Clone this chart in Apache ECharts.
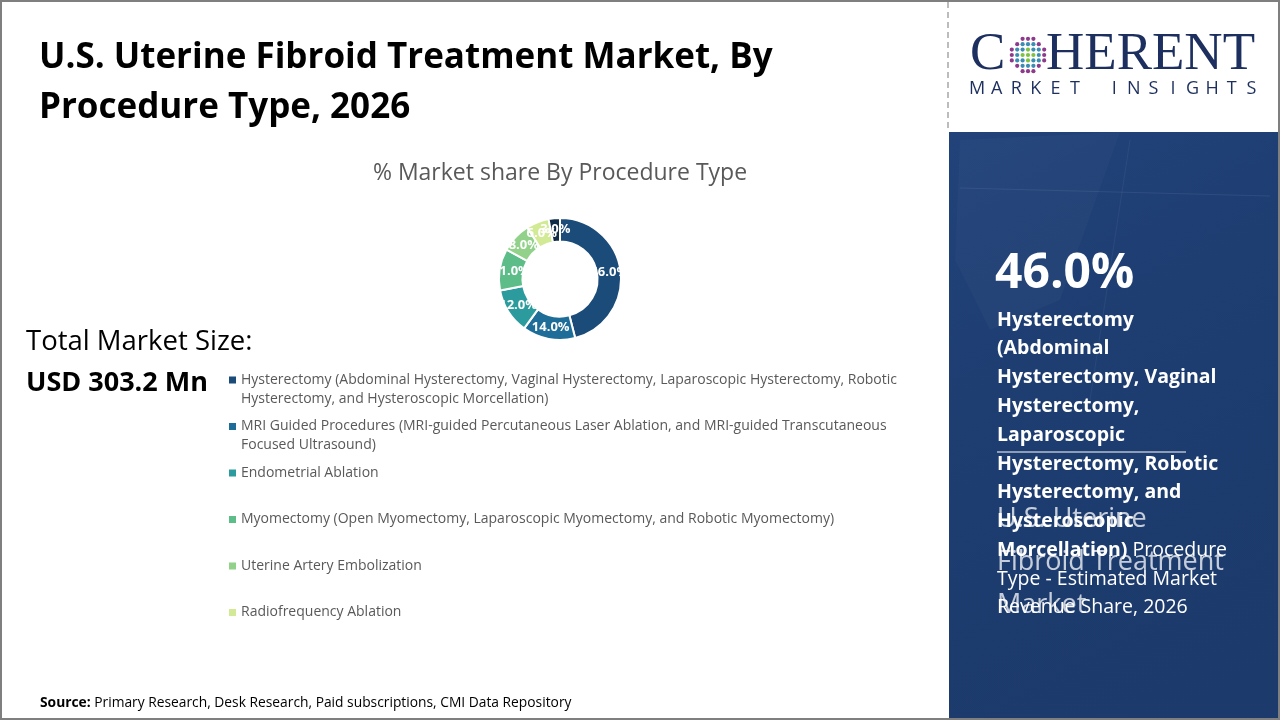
<!DOCTYPE html>
<html>
<head>
<meta charset="utf-8">
<script src="https://cdn.jsdelivr.net/npm/echarts@6/dist/echarts.min.js"></script>
<style>
html,body{margin:0;padding:0;background:#fff;}
#c{width:1280px;height:720px;}
</style>
</head>
<body>
<div id="c"></div>
<script>
// ---- data ----
const categories = [
  'Hysterectomy (Abdominal Hysterectomy, Vaginal Hysterectomy, Laparoscopic Hysterectomy, Robotic Hysterectomy, and Hysteroscopic Morcellation)',
  'MRI Guided Procedures (MRI-guided Percutaneous Laser Ablation, and MRI-guided Transcutaneous Focused Ultrasound)',
  'Endometrial Ablation',
  'Myomectomy (Open Myomectomy, Laparoscopic Myomectomy, and Robotic Myomectomy)',
  'Uterine Artery Embolization',
  'Radiofrequency Ablation',
  'Others'
];
const shares = [46.0, 14.0, 12.0, 11.0, 8.0, 6.0, 3.0];
const legendNames = categories.slice(0, 6);
const colors = ['#1b4b79', '#1d6d98', '#2b9b9d', '#5dbd89', '#91d189', '#d2ea95', '#0f2b46'];
const titleText = 'U.S. Uterine Fibroid Treatment Market, By\nProcedure Type, 2026';
const subtitleText = '% Market share By Procedure Type';
const totalLabel = 'Total Market Size:';
const totalValue = 'USD 303.2 Mn';
const sourceLabel = 'Source:';
const sourceText = ' Primary Research, Desk Research, Paid subscriptions, CMI Data Repository';

const FONT = '"Open Sans", Lato, sans-serif';
const PIE_C = [560, 279];
const chart = echarts.init(document.getElementById('c'), null, {renderer: 'canvas'});

// legends: one per item so that rows sit at even spacing
const wrapped = [0, 1];
const tallIcon = 'path://M0,0L7,0M0,6L7,6L7,13L0,13ZM0,38L7,38';
const legends = legendNames.map((n, i) => {
  const w = wrapped.includes(i);
  return {
    orient: 'vertical',
    left: 229,
    top: 370.5 + 46.5 * i,
    padding: 0,
    itemWidth: 7,
    itemHeight: w ? 38 : 7,
    icon: w ? tallIcon : 'rect',
    itemStyle: {borderWidth: 0},
    selectedMode: false,
    data: [n],
    textStyle: {
      fontFamily: FONT,
      fontSize: 14,
      color: '#595959',
      lineHeight: 19,
      width: 662,
      overflow: 'break'
    }
  };
});

// logo letters
const logoSub = 'MARKET INSIGHTS';
const logoLetters = logoSub.split('').map((ch, i) => ({
  type: 'text', x: 977 + i * 19.6, y: 89,
  style: {text: ch, font: '18px ' + FONT, fill: '#1c2f5f', align: 'center', verticalAlign: 'middle'}
}));
// globe dots
const globeDots = [];
for (let r = -3; r <= 3; r++) {
  for (let c = -3; c <= 3; c++) {
    const d = Math.sqrt(r * r + c * c);
    if (d > 3.2) continue;
    const col = d > 2.4 ? '#8e3a8c' : (d > 1.2 ? '#3b8db3' : '#7cc243');
    globeDots.push({type: 'circle', shape: {cx: 1028 + c * 5.4, cy: 55 + r * 5.4, r: 2.1}, style: {fill: col}});
  }
}

const panelBold = ['Hysterectomy', '(Abdominal', 'Hysterectomy, Vaginal', 'Hysterectomy,', 'Laparoscopic',
  'Hysterectomy, Robotic', 'Hysterectomy, and', 'Hysteroscopic'];
const panelLines = panelBold.map((t, i) => ({
  type: 'text', x: 997, y: 320 + 28.8 * i,
  style: {text: t, font: 'bold 19.5px ' + FONT, fill: '#ffffff', verticalAlign: 'middle'}
}));

const option = {
  backgroundColor: '#ffffff',
  title: {
    text: titleText, left: 39, top: 33, padding: 0,
    textStyle: {fontFamily: FONT, fontWeight: 'bold', fontSize: 35, lineHeight: 50, color: '#000000'}
  },
  legend: legends,
  series: [{
    type: 'pie',
    center: PIE_C,
    radius: [37.5, 61],
    startAngle: 90,
    clockwise: true,
    avoidLabelOverlap: false,
    silent: true,
    itemStyle: {borderColor: '#ffffff', borderWidth: 2},
    label: {
      show: true, position: 'inside',
      formatter: p => p.value.toFixed(1) + '%',
      color: '#ffffff', fontFamily: FONT, fontWeight: 'bold', fontSize: 13
    },
    labelLayout: function (params) {
      const r = params.labelRect;
      const cx = r.x + r.width / 2, cy = r.y + r.height / 2;
      const f = 0.95;
      return {x: PIE_C[0] + (cx - PIE_C[0]) * f, y: PIE_C[1] + (cy - PIE_C[1]) * f, align: 'center', verticalAlign: 'middle'};
    },
    labelLine: {show: false},
    data: categories.map((n, i) => ({name: n, value: shares[i], itemStyle: {color: colors[i]}}))
  }],
  graphic: [
    // outer slide border
    {type: 'rect', shape: {x: 1, y: 1, width: 1278, height: 718}, style: {fill: 'none', stroke: '#7f7f7f', lineWidth: 2}, z: 100},
    // dashed divider near logo
    {type: 'line', shape: {x1: 948, y1: 2, x2: 948, y2: 132}, style: {stroke: '#a6a6a6', lineWidth: 1.5, lineDash: [6, 4]}},
    // right panel
    {type: 'rect', shape: {x: 949, y: 132, width: 330, height: 587},
      style: {fill: new echarts.graphic.LinearGradient(0, 0, 1, 1, [
        {offset: 0, color: '#21437a'}, {offset: 0.5, color: '#1d3c6f'}, {offset: 1, color: '#1c3a6b'}])}},
    {type: 'polygon', shape: {points: [[960, 140], [1120, 132], [1060, 300], [990, 330], [955, 260]]}, style: {fill: 'rgba(255,255,255,0.025)'}},
    {type: 'line', shape: {x1: 960, y1: 188, x2: 1270, y2: 196}, style: {stroke: 'rgba(255,255,255,0.07)', lineWidth: 1}},
    {type: 'line', shape: {x1: 1130, y1: 140, x2: 1090, y2: 400}, style: {stroke: 'rgba(255,255,255,0.05)', lineWidth: 1}},
    // logo
    {type: 'text', x: 970, y: 55, style: {text: 'C', font: '53px "Liberation Serif", serif', fill: '#1c2f5f', verticalAlign: 'middle'}},
    {type: 'text', x: 1046, y: 55, style: {text: 'HERENT', font: '53px "Liberation Serif", serif', fill: '#1c2f5f', verticalAlign: 'middle'}},
    ...globeDots,
    ...logoLetters,
    // subtitle
    {type: 'text', x: 560, y: 173, style: {text: subtitleText, font: '23px ' + FONT, fill: '#595959', align: 'center', verticalAlign: 'middle'}},
    // total market size
    {type: 'text', x: 26, y: 342, style: {text: totalLabel, font: '27.5px ' + FONT, fill: '#000000', verticalAlign: 'middle'}},
    {type: 'text', x: 26, y: 383, style: {text: totalValue, font: 'bold 27px ' + FONT, fill: '#000000', verticalAlign: 'middle'}},
    // source
    {type: 'text', x: 40, y: 703, style: {
      text: '{b|' + sourceLabel + '}{r|' + sourceText + '}', verticalAlign: 'middle',
      rich: {b: {fontFamily: FONT, fontWeight: 'bold', fontSize: 13.8, fill: '#000'}, r: {fontFamily: FONT, fontSize: 13.8, fill: '#000'}}
    }},
    // panel texts
    {type: 'text', x: 995, y: 274, style: {text: shares[0].toFixed(1) + '%', font: 'bold 48px ' + FONT, fill: '#ffffff', verticalAlign: 'middle'}},
    ...panelLines,
    {type: 'line', shape: {x1: 997, y1: 452, x2: 1186, y2: 452}, style: {stroke: '#ffffff', lineWidth: 1}},
    {type: 'text', x: 997, y: 550, style: {
      text: '{b|Morcellation)}{r| Procedure}', verticalAlign: 'middle',
      rich: {b: {fontFamily: FONT, fontWeight: 'bold', fontSize: 19.5, fill: '#fff'}, r: {fontFamily: FONT, fontSize: 19.5, fill: '#fff'}}
    }},
    {type: 'text', x: 997, y: 579, style: {text: 'Type - Estimated Market', font: '19.5px ' + FONT, fill: '#ffffff', verticalAlign: 'middle'}},
    {type: 'text', x: 997, y: 607, style: {text: 'Revenue Share, 2026', font: '19.5px ' + FONT, fill: '#ffffff', verticalAlign: 'middle'}},
    {type: 'text', x: 997, y: 519, style: {text: 'U.S. Uterine', font: '27px ' + FONT, fill: 'rgba(255,255,255,0.75)', verticalAlign: 'middle'}},
    {type: 'text', x: 997, y: 562, style: {text: 'Fibroid Treatment', font: '27px ' + FONT, fill: 'rgba(255,255,255,0.75)', verticalAlign: 'middle'}},
    {type: 'text', x: 997, y: 605, style: {text: 'Market', font: '27px ' + FONT, fill: 'rgba(255,255,255,0.75)', verticalAlign: 'middle'}}
  ]
};
chart.setOption(option);
</script>
</body>
</html>
